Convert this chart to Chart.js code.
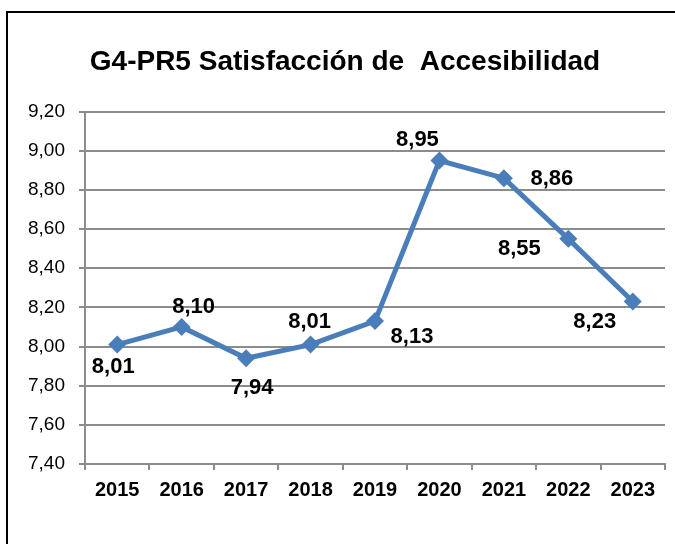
<!DOCTYPE html>
<html>
<head>
<meta charset="utf-8">
<script src="https://cdn.jsdelivr.net/npm/chart.js@4/dist/chart.umd.min.js"></script>
<style>
  html, body { margin: 0; padding: 0; background: #fff; overflow: hidden; }
  #wrap { position: relative; width: 675px; height: 544px; }
  #frame {
    position: absolute; left: 6px; top: 11px; width: 720px; height: 600px;
    border: 2px solid #000; pointer-events: none;
  }
</style>
</head>
<body>
<div id="wrap">
  <canvas id="chart" width="675" height="544"></canvas>
  <div id="frame"></div>
</div>
<script>
const titleText = "G4-PR5 Satisfacción de  Accesibilidad";
const years = ["2015", "2016", "2017", "2018", "2019", "2020", "2021", "2022", "2023"];
const satisfaction = [8.01, 8.10, 7.94, 8.01, 8.13, 8.95, 8.86, 8.55, 8.23];
const yMin = 7.4;
const yMax = 9.2;
const yStep = 0.2;

// where each value label sits relative to its point (pixels)
const labelOffsets = [
    [-4, 22], [12, -20], [6, 30], [-1, -23], [37, 16],
    [-22, -21], [48, 1], [-49, 10], [-38, 20]
];

const fontFamily = "'Liberation Sans', Arial, sans-serif";
const lineColor = "#4A7EBB";
const gridColor = "#8c8c8c";

const fmt = (v) => v.toFixed(2).replace(".", ",");

// Draw the value labels next to the points
const valueLabels = {
    id: "valueLabels",
    afterDatasetsDraw(chart) {
        const ctx = chart.ctx;
        const meta = chart.getDatasetMeta(0);
        ctx.save();
        ctx.font = "bold 22px " + fontFamily;
        ctx.fillStyle = "#000";
        ctx.textAlign = "center";
        ctx.textBaseline = "middle";
        meta.data.forEach((pt, i) => {
            const [dx, dy] = labelOffsets[i];
            ctx.fillText(fmt(satisfaction[i]), pt.x + dx, pt.y + dy);
        });
        ctx.restore();
    }
};

new Chart(document.getElementById("chart"), {
    type: "line",
    data: {
        labels: years,
        datasets: [{
            data: satisfaction,
            borderColor: lineColor,
            backgroundColor: lineColor,
            borderWidth: 5,
            tension: 0,
            pointStyle: "rectRot",
            pointRadius: 9,
            pointBorderWidth: 0,
            pointBackgroundColor: lineColor
        }]
    },
    options: {
        responsive: false,
        animation: false,
        layout: { padding: { left: 25, right: 10, top: 0, bottom: 0 } },
        plugins: {
            legend: { display: false },
            tooltip: { enabled: false },
            title: {
                display: true,
                text: titleText,
                color: "#000",
                font: { family: fontFamily, size: 28, weight: "bold" },
                padding: { top: 45, bottom: 33 }
            }
        },
        scales: {
            x: {
                offset: true,
                grid: {
                    offset: true,
                    drawOnChartArea: false,
                    tickLength: 6,
                    color: gridColor,
                    lineWidth: 2
                },
                border: { color: gridColor, width: 2 },
                ticks: {
                    color: "#000",
                    padding: 8,
                    maxRotation: 0,
                    font: { family: fontFamily, size: 20, weight: "bold" }
                },
                afterFit: (s) => { s.height = 80; }
            },
            y: {
                min: yMin,
                max: yMax,
                grid: { color: gridColor, lineWidth: 2, tickLength: 6 },
                border: { color: gridColor, width: 2 },
                ticks: {
                    stepSize: yStep,
                    color: "#000",
                    padding: 14,
                    font: { family: fontFamily, size: 19 },
                    callback: (v) => fmt(v)
                },
                afterFit: (s) => { s.width = 60; }
            }
        }
    },
    plugins: [valueLabels]
});
</script>
</body>
</html>
